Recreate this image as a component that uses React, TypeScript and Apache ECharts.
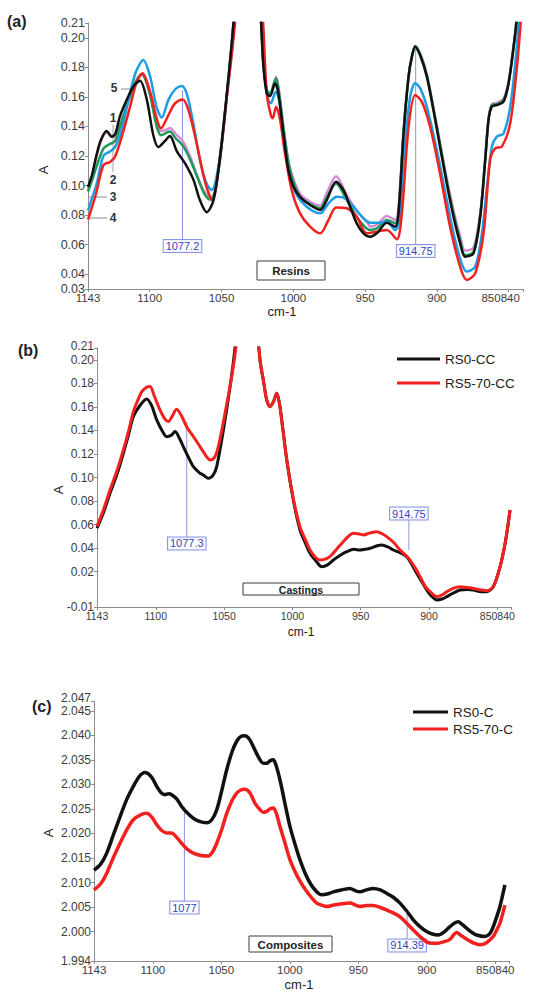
import React, { useEffect, useRef } from "react";
import * as echarts from "echarts";

const FONT = '"Liberation Sans", Arial, Helvetica, sans-serif';

// ---- Wavenumber axis (cm-1), shared by all three panels ----
const xTickValues = [1143, 1100, 1050, 1000, 950, 900, 850, 840];
const xLabelValues = [1143, 1100, 1050, 1000, 950, 900, 850];

// ---- Panel (a): resins, five spectra [wavenumber, absorbance] ----
const resinPink: [number, number][] = [
  [1143, 0.097], [1140, 0.107], [1137, 0.12], [1133.5, 0.131], [1130, 0.136], [1127, 0.134], [1124.2, 0.133],
  [1120, 0.143], [1115, 0.157], [1110, 0.169], [1105.5, 0.175], [1100, 0.163], [1095.2, 0.143], [1092, 0.137],
  [1088, 0.138], [1086, 0.139], [1082, 0.135], [1077, 0.13], [1072, 0.12], [1067, 0.107], [1062, 0.096],
  [1058, 0.0915], [1055, 0.095], [1051, 0.118], [1046.4, 0.16], [1041.7, 0.21], [1038, 0.27], [1031, 0.4],
  [1026, 0.27], [1022.4, 0.21], [1020.8, 0.182], [1018.5, 0.1646], [1016.2, 0.1624], [1012, 0.1735], [1010, 0.164],
  [1006.5, 0.137], [1002.3, 0.112], [995.3, 0.0945], [988.3, 0.089], [981.3, 0.0865], [976.7, 0.095], [970.2, 0.1063],
  [962.8, 0.0935], [955.8, 0.083], [948, 0.0745], [946.5, 0.0722], [941.8, 0.0735], [934.8, 0.0794], [929, 0.0767],
  [926.7, 0.085], [923.2, 0.137], [919.7, 0.174], [917.4, 0.187], [915.1, 0.193], [911.6, 0.189], [907, 0.175],
  [902.4, 0.153], [897.8, 0.129], [893.1, 0.105], [888.4, 0.083], [883.8, 0.066], [880.3, 0.056], [874.5, 0.058],
  [869.8, 0.081], [866.3, 0.118], [864, 0.145], [861.7, 0.155], [858.2, 0.156], [853.5, 0.159], [850, 0.171],
  [846.5, 0.195], [844.7, 0.21], [842, 0.25],
];
const resinGreen: [number, number][] = [
  [1143, 0.096], [1140, 0.104], [1137, 0.113], [1132.3, 0.125], [1128, 0.128], [1124.2, 0.13], [1120, 0.142],
  [1115, 0.157], [1110, 0.17], [1105.5, 0.1755], [1100, 0.162], [1095.2, 0.14], [1092, 0.134], [1088, 0.136],
  [1086, 0.1365], [1082, 0.132], [1077, 0.127], [1072, 0.118], [1067, 0.106], [1062, 0.0945], [1058, 0.0905],
  [1055, 0.094], [1051, 0.118], [1046.4, 0.16], [1041.7, 0.21], [1038, 0.27], [1031, 0.4], [1026, 0.27],
  [1022.4, 0.21], [1020.8, 0.182], [1018.5, 0.1646], [1016.2, 0.1624], [1012, 0.1726], [1010, 0.1635],
  [1006.5, 0.1364], [1002.3, 0.1105], [995.3, 0.0924], [988.3, 0.0875], [981.3, 0.0846], [976.7, 0.092],
  [970.2, 0.1014], [962.8, 0.0902], [953.4, 0.0756], [946.5, 0.0699], [941.8, 0.071], [934.8, 0.0767], [929, 0.0744],
  [926.7, 0.083], [923.2, 0.136], [919.7, 0.174], [917.4, 0.1875], [915.1, 0.1945], [911.6, 0.189], [907, 0.175],
  [902.4, 0.152], [897.8, 0.128], [893.1, 0.103], [888.4, 0.081], [883.8, 0.063], [880.3, 0.053], [874.5, 0.055],
  [869.8, 0.08], [866.3, 0.118], [864, 0.145], [861.7, 0.1545], [858.2, 0.155], [853.5, 0.158], [850, 0.17],
  [846.5, 0.195], [844.7, 0.21], [842, 0.25],
];
const resinBlue: [number, number][] = [
  [1143, 0.083], [1140, 0.092], [1137, 0.101], [1132.3, 0.12], [1127.7, 0.123], [1124.2, 0.126], [1119.5, 0.138],
  [1114.8, 0.158], [1110, 0.176], [1104.5, 0.185], [1099.8, 0.174], [1095.2, 0.153], [1091.6, 0.146], [1087, 0.158],
  [1082.4, 0.165], [1077.7, 0.1673], [1074.2, 0.162], [1069.6, 0.142], [1065, 0.117], [1060.3, 0.101], [1056.8, 0.097],
  [1052.2, 0.1127], [1047.5, 0.151], [1041.7, 0.203], [1038, 0.27], [1031, 0.4], [1026, 0.27], [1022, 0.21],
  [1019.7, 0.1737], [1017.4, 0.1579], [1015.7, 0.1557], [1012.2, 0.1635], [1009.9, 0.1579], [1006.5, 0.1308],
  [1002.3, 0.1059], [997.6, 0.0935], [990.7, 0.0857], [981.3, 0.0812], [975.5, 0.0879], [969.7, 0.0924],
  [963.9, 0.0913], [958.1, 0.0857], [951.1, 0.0778], [946.5, 0.0749], [939.5, 0.0749], [934.8, 0.0756], [929, 0.0699],
  [926, 0.0767], [923.2, 0.1173], [918.6, 0.1601], [915.1, 0.1692], [911.6, 0.1658], [907, 0.1534], [900, 0.124],
  [893.1, 0.0902], [886.1, 0.0587], [879.1, 0.0418], [873.3, 0.0451], [868.6, 0.0677], [865.1, 0.0992],
  [861.7, 0.1263], [858.2, 0.1331], [853.5, 0.1353], [848.9, 0.1534], [845.4, 0.1827], [843, 0.21], [841, 0.24],
];
const resinRed: [number, number][] = [
  [1143, 0.077], [1140, 0.086], [1137, 0.0958], [1132.3, 0.1138], [1127.7, 0.116], [1124.2, 0.1195], [1119.5, 0.133],
  [1113.7, 0.1533], [1109, 0.1703], [1105, 0.176], [1099.8, 0.1635], [1095.2, 0.1455], [1092.2, 0.1387],
  [1087, 0.1477], [1082.4, 0.1556], [1077, 0.1583], [1073, 0.151], [1067.3, 0.1285], [1061.5, 0.1026],
  [1056.4, 0.09], [1051, 0.1195], [1046.4, 0.159], [1040.6, 0.21], [1037, 0.27], [1031, 0.4], [1025, 0.27],
  [1021, 0.21], [1018.5, 0.1624], [1015.7, 0.1478], [1014.3, 0.1455], [1012, 0.1534], [1009.2, 0.1444],
  [1005.8, 0.1218], [1001.1, 0.0969], [995.3, 0.0812], [988.3, 0.0722], [981.3, 0.0677], [975.5, 0.0767],
  [970.2, 0.0852], [962.8, 0.0846], [955.8, 0.0789], [948.8, 0.0677], [941.8, 0.0688], [934.8, 0.0699],
  [927.9, 0.0636], [924.4, 0.0812], [919.7, 0.1398], [915.1, 0.1613], [910.5, 0.1568], [904.7, 0.1398],
  [897.8, 0.1082], [890.8, 0.0722], [883.8, 0.0451], [879.1, 0.0361], [873.3, 0.0406], [867.5, 0.0677],
  [862.9, 0.1173], [859.4, 0.1252], [854.7, 0.1263], [848.9, 0.1421], [844.2, 0.1805], [841.6, 0.21], [840, 0.23],
];
const resinBlack: [number, number][] = [
  [1143, 0.099], [1140, 0.108], [1137, 0.121], [1134, 0.131], [1130, 0.137], [1126.5, 0.133], [1124, 0.135],
  [1120.7, 0.147], [1116, 0.158], [1111.4, 0.167], [1106.8, 0.171], [1102, 0.158], [1097.5, 0.134], [1094, 0.126],
  [1089.5, 0.13], [1086, 0.1335], [1081, 0.123], [1075.4, 0.115], [1069.6, 0.104], [1065, 0.09], [1060.3, 0.082],
  [1055.6, 0.09], [1051, 0.1195], [1046.4, 0.1613], [1041.7, 0.21], [1038, 0.27], [1031, 0.4], [1026, 0.27],
  [1022.4, 0.21], [1020.8, 0.1805], [1018.5, 0.1624], [1016.2, 0.1606], [1012.7, 0.1692], [1010.4, 0.1624],
  [1006.9, 0.1353], [1003.4, 0.1105], [999.9, 0.0992], [995.3, 0.0924], [988.3, 0.0868], [981.3, 0.0835],
  [976.7, 0.0902], [970.2, 0.1025], [965.1, 0.097], [960.4, 0.0857], [955.8, 0.0744], [951.1, 0.0677],
  [946.5, 0.0654], [941.8, 0.0677], [934.8, 0.0749], [929, 0.0722], [926.7, 0.0812], [923.2, 0.1353],
  [919.7, 0.1737], [917.4, 0.1872], [915.1, 0.194], [911.6, 0.188], [907, 0.1737], [902.4, 0.1511], [897.8, 0.1263],
  [893.1, 0.1014], [888.4, 0.0789], [883.8, 0.0609], [880.3, 0.0519], [874.5, 0.0541], [869.8, 0.0789],
  [866.3, 0.1173], [864, 0.1444], [861.7, 0.1534], [858.2, 0.1545], [853.5, 0.1568], [850, 0.1692], [846.5, 0.194],
  [844.7, 0.2098], [842, 0.25],
];

// ---- Panel (b): castings ----
const castRS0: [number, number][] = [
  [1143, 0.057], [1138, 0.071], [1133.5, 0.0866], [1128, 0.104], [1123.7, 0.1206], [1120, 0.136], [1116.4, 0.1517],
  [1111, 0.162], [1106.6, 0.1667], [1103, 0.161], [1099.3, 0.1489], [1095, 0.139], [1092, 0.1347], [1088.5, 0.136],
  [1085.9, 0.139], [1082.5, 0.133], [1079.8, 0.1262], [1076, 0.117], [1072.5, 0.1092], [1068, 0.104], [1065.2, 0.1022],
  [1061.5, 0.0993], [1058, 0.102], [1055.4, 0.1092], [1050.5, 0.1404], [1045.6, 0.1772], [1042, 0.21], [1038, 0.26],
  [1032, 0.4], [1027, 0.25], [1023.7, 0.1999], [1021, 0.181], [1018.8, 0.1659], [1016.4, 0.1602], [1014, 0.164],
  [1011.4, 0.1716], [1009.5, 0.163], [1007.8, 0.1489], [1004.1, 0.1149], [999.3, 0.0809], [994.4, 0.0554],
  [990, 0.043], [987.1, 0.0356], [982, 0.028], [978.5, 0.0242], [974, 0.026], [970, 0.0299], [965, 0.034],
  [960.3, 0.037], [955, 0.039], [950.5, 0.0384], [947, 0.039], [943.1, 0.0399], [938, 0.042], [934.6, 0.0427],
  [930, 0.041], [926.2, 0.0384], [921, 0.036], [916.3, 0.0327], [913, 0.027], [909, 0.0186], [905, 0.011],
  [901.6, 0.0044], [898, -0.001], [894.3, -0.004], [890, -0.003], [887, -0.0012], [882, 0.002], [877.3, 0.0044],
  [872, 0.0048], [867.5, 0.0044], [862, 0.003], [857.7, 0.003], [852.9, 0.0073], [848, 0.0242], [844, 0.046],
  [840.7, 0.0724],
];
const castRS570: [number, number][] = [
  [1143, 0.0585], [1138, 0.0735], [1133.5, 0.0894], [1128, 0.107], [1123.7, 0.1234], [1120, 0.139], [1116.4, 0.156],
  [1113, 0.166], [1110.2, 0.1729], [1107, 0.1765], [1104.2, 0.1772], [1101, 0.169], [1096.9, 0.1574], [1093.5, 0.15],
  [1090.8, 0.1475], [1088, 0.152], [1084.7, 0.158], [1081, 0.152], [1077.4, 0.1432], [1072, 0.134], [1067.6, 0.1262],
  [1063, 0.118], [1060.3, 0.1149], [1057, 0.117], [1054.2, 0.1262], [1049.3, 0.1546], [1044.4, 0.1857],
  [1041.4, 0.21], [1037.5, 0.26], [1032, 0.4], [1027, 0.25], [1023.7, 0.2], [1021, 0.181], [1018.8, 0.1659],
  [1016.4, 0.1602], [1014, 0.164], [1011.4, 0.1716], [1009.5, 0.163], [1007.8, 0.1489], [1004.1, 0.1149],
  [999.3, 0.082], [994.4, 0.058], [990, 0.046], [987.1, 0.0384], [983, 0.032], [979.8, 0.0299], [975, 0.031],
  [971.3, 0.0342], [967, 0.04], [962.8, 0.0455], [958, 0.051], [955.4, 0.0526], [951, 0.052], [948.1, 0.0512],
  [943, 0.053], [938.3, 0.054], [934, 0.052], [931, 0.0498], [926, 0.045], [921.2, 0.0384], [917, 0.034],
  [913.9, 0.0299], [910, 0.023], [906.5, 0.0157], [903, 0.008], [899.2, 0.003], [894.3, -0.0012], [890, 0.0005],
  [887, 0.003], [882, 0.006], [877.3, 0.0073], [872, 0.0065], [867.5, 0.0058], [862, 0.0045], [857.7, 0.0038],
  [852.9, 0.0075], [848, 0.0242], [844, 0.046], [840.7, 0.0724],
];

// ---- Panel (c): composites ----
const compRS0: [number, number][] = [
  [1143, 2.0125], [1138, 2.0138], [1133.7, 2.016], [1129, 2.0196], [1124, 2.0234], [1119, 2.027], [1114.3, 2.0296],
  [1110, 2.0316], [1105.8, 2.0324], [1101, 2.0315], [1097.2, 2.0296], [1094, 2.0283], [1091.2, 2.0279],
  [1088.5, 2.0281], [1086.3, 2.0279], [1082.5, 2.027], [1079, 2.0255], [1075, 2.0242], [1070.5, 2.0231],
  [1065.5, 2.0224], [1060.7, 2.0222], [1057, 2.0228], [1053.4, 2.0248], [1049.5, 2.029], [1046.1, 2.033],
  [1042, 2.0368], [1038.8, 2.0388], [1035.5, 2.0398], [1032.8, 2.0399], [1029.5, 2.0392], [1026.7, 2.0377],
  [1023, 2.0356], [1019.4, 2.0343], [1016.9, 2.0343], [1014.5, 2.0348], [1012.1, 2.035], [1010, 2.0338],
  [1007.2, 2.0309], [1003.5, 2.026], [999.9, 2.0214], [996, 2.0176], [992.6, 2.0146], [989, 2.012], [985.3, 2.0099],
  [981, 2.0083], [976.8, 2.0075], [972, 2.0077], [968.3, 2.0081], [962, 2.0085], [956.1, 2.0088], [952, 2.0083],
  [948.8, 2.0081], [944, 2.0085], [939.1, 2.0088], [934, 2.0085], [929.4, 2.0078], [924.5, 2.007], [919.6, 2.0058],
  [915, 2.0043], [909.9, 2.0024], [905, 2.001], [900.2, 2.0], [896, 1.9995], [891.7, 1.9993], [887, 2.0],
  [883.1, 2.001], [880, 2.0017], [877.1, 2.002], [874, 2.0014], [871, 2.0007], [867, 1.9998], [863.7, 1.9993],
  [857.6, 1.999], [854, 1.9996], [851.5, 2.001], [849, 2.003], [846.6, 2.0051], [843, 2.0095],
];
const compRS570: [number, number][] = [
  [1143, 2.0085], [1138, 2.0098], [1133.7, 2.0119], [1129, 2.015], [1124, 2.018], [1119, 2.0208], [1114.3, 2.0228],
  [1109, 2.0238], [1104.5, 2.0241], [1100.5, 2.0232], [1097.2, 2.0218], [1093.5, 2.0206], [1089.9, 2.0201],
  [1087, 2.0201], [1085.1, 2.0199], [1082, 2.019], [1079, 2.018], [1075, 2.0168], [1070.5, 2.016], [1065, 2.0155],
  [1059.6, 2.0154], [1056.5, 2.0162], [1053.4, 2.018], [1049.5, 2.021], [1046.1, 2.0241], [1042, 2.0268],
  [1038.8, 2.0282], [1035.5, 2.0289], [1032.8, 2.029], [1029, 2.0282], [1025.5, 2.0262], [1022, 2.0249],
  [1019.4, 2.0243], [1016.9, 2.0245], [1014.5, 2.025], [1012.1, 2.0252], [1010, 2.0242], [1007.2, 2.0214],
  [1003.5, 2.018], [999.9, 2.0146], [995, 2.0115], [990.2, 2.0092], [985, 2.0072], [980.4, 2.0058], [976, 2.0053],
  [973.2, 2.0051], [968, 2.0054], [963.4, 2.0056], [956.1, 2.0058], [952, 2.0054], [948.8, 2.0051], [944, 2.0053],
  [939.1, 2.0053], [934, 2.0049], [929.4, 2.0044], [924.5, 2.0038], [919.6, 2.003], [915, 2.0018], [909.9, 2.0003],
  [905, 1.999], [900.2, 1.9979], [896, 1.9976], [892.9, 1.9976], [888, 1.9979], [883.1, 1.9984], [880.5, 1.9993],
  [878.3, 1.9998], [875, 1.9992], [871, 1.9985], [866, 1.9977], [861.2, 1.9973], [857, 1.9976], [851.5, 1.999],
  [849, 2.0003], [846.6, 2.0017], [843, 2.0054],
];

// ---- Absorbance tick labels per panel (last entry = axis maximum) ----
const yTicksA = [0.03, 0.04, 0.06, 0.08, 0.1, 0.12, 0.14, 0.16, 0.18, 0.2, 0.21];
const yTicksB = [-0.01, 0.02, 0.04, 0.06, 0.08, 0.1, 0.12, 0.14, 0.16, 0.18, 0.2, 0.21];
const yTicksC = [1.994, 2.0, 2.005, 2.01, 2.015, 2.02, 2.025, 2.03, 2.035, 2.04, 2.045, 2.047];

// ---- Peak markers: [panel, wavenumber, absorbance at line top, absorbance at box centre, label] ----
const peakMarks: [number, number, number, number, string][] = [
  [0, 1077.2, 0.1646, 0.0591, "1077.2"],
  [0, 914.75, 0.194, 0.0557, "914.75"],
  [1, 1077.3, 0.147, 0.044, "1077.3"],
  [1, 914.75, 0.0384, 0.0694, "914.75"],
  [2, 1077, 2.0254, 2.0049, "1077"],
  [2, 914.39, 2.0045, 1.99716, "914.39"],
];

const C = {
  black: "#111111",
  red: "#f2201e",
  blue: "#1d9ee2",
  green: "#1e9a58",
  pink: "#d98ad6",
  axis: "#8c8c8c",
  tick: "#3c3c3c",
  mark: "#8796e4",
  markText: "#2f45c0",
};

// lift: how far the top label sits above its tick, to keep it clear of the next one
const panels = [
  { ticks: yTicksA, digits: 2, fontSize: 12.5, lift: 0 },
  { ticks: yTicksB, digits: 2, fontSize: 12, lift: 2 },
  { ticks: yTicksC, digits: 3, fontSize: 12, lift: 3 },
];

function xAxisCfg(gridIndex: number, fontSize: number, shift: number) {
  return {
    type: "value",
    gridIndex,
    inverse: true,
    min: 840,
    max: 1143,
    axisLine: { show: true, onZero: false, lineStyle: { color: C.axis, width: 1 } },
    axisTick: { show: true, length: 3, customValues: xTickValues, lineStyle: { color: C.axis } },
    axisLabel: {
      customValues: xLabelValues,
      showMinLabel: true,
      showMaxLabel: true,
      fontSize,
      color: C.tick,
      fontFamily: FONT,
      margin: 3,
      formatter: (v: number) => (v === 850 ? "{s|850840}" : String(v)),
      rich: { s: { padding: [0, shift, 0, 0], fontSize, color: C.tick, fontFamily: FONT } },
    },
    splitLine: { show: false },
  };
}

// The top value is written separately (see below) so the tightly spaced
// uppermost pair of labels is never thinned out by the axis.
function yAxisCfg(gridIndex: number) {
  const { ticks, digits, fontSize } = panels[gridIndex];
  return {
    type: "value",
    gridIndex,
    min: ticks[0],
    max: ticks[ticks.length - 1],
    axisLine: { show: true, onZero: false, lineStyle: { color: C.axis, width: 1 } },
    axisTick: { show: true, length: 3, customValues: ticks, lineStyle: { color: C.axis } },
    axisLabel: {
      customValues: ticks.slice(0, -1),
      showMinLabel: true,
      showMaxLabel: true,
      fontSize,
      color: C.tick,
      fontFamily: FONT,
      margin: 3,
      formatter: (v: number) => v.toFixed(digits),
    },
    splitLine: { show: false },
  };
}

function lineSeries(name: string, idx: number, data: [number, number][], color: string, width: number) {
  return {
    name,
    type: "line",
    xAxisIndex: idx,
    yAxisIndex: idx,
    data,
    showSymbol: false,
    symbol: "none",
    smooth: 0.3,
    clip: true,
    color,
    lineStyle: { color, width },
    emphasis: { disabled: true },
  };
}

function staticGraphics() {
  const txt = (x: number, y: number, text: string, opts: any = {}) => ({
    type: "text",
    x,
    y,
    silent: true,
    style: {
      text,
      fill: opts.fill || "#222",
      font: `${opts.weight || "normal"} ${opts.size || 13}px ${FONT}`,
      align: opts.align || "center",
      verticalAlign: opts.va || "middle",
    },
    rotation: opts.rotation || 0,
  });
  const seg = (x1: number, y1: number, x2: number, y2: number, color = "#8a8a8a") => ({
    type: "line",
    silent: true,
    shape: { x1, y1, x2, y2 },
    style: { stroke: color, lineWidth: 1 },
  });
  const namedBox = (x: number, y: number, w: number, h: number, label: string, size: number) => [
    { type: "rect", silent: true, shape: { x, y, width: w, height: h }, style: { fill: "#fff", stroke: "#3a3a3a", lineWidth: 1 } },
    txt(x + w / 2, y + h / 2 + 0.5, label, { weight: "bold", size }),
  ];
  return [
    // panel tags
    txt(7, 21, "(a)", { weight: "bold", size: 16, align: "left" }),
    txt(18, 350, "(b)", { weight: "bold", size: 16, align: "left" }),
    txt(32, 706, "(c)", { weight: "bold", size: 16, align: "left" }),
    // axis titles
    txt(43, 170, "A", { size: 13, rotation: Math.PI / 2 }),
    txt(58, 490, "A", { size: 13, rotation: Math.PI / 2 }),
    txt(48, 833, "A", { size: 13, rotation: Math.PI / 2 }),
    txt(282, 311, "cm-1", { size: 13 }),
    txt(301, 632, "cm-1", { size: 12 }),
    txt(299, 984, "cm-1", { size: 13 }),
    // sample boxes
    ...namedBox(257, 261, 68, 19, "Resins", 11.5),
    ...namedBox(243, 583, 116, 12, "Castings", 10.5),
    ...namedBox(249, 936, 83, 16, "Composites", 11.5),
    // spectrum numbering in panel (a)
    txt(114, 88, "5", { weight: "bold", size: 12, fill: "#333" }),
    seg(121, 89, 133, 89),
    txt(113, 118, "1", { weight: "bold", size: 12, fill: "#333" }),
    seg(113, 125, 113, 172, "#a0a0a0"),
    txt(113, 180, "2", { weight: "bold", size: 12, fill: "#333" }),
    txt(113, 197, "3", { weight: "bold", size: 12, fill: "#333" }),
    seg(89, 197, 107, 197),
    txt(113, 218, "4", { weight: "bold", size: 12, fill: "#333" }),
    seg(89, 218, 107, 218),
  ];
}

export default function App() {
  const ref = useRef<HTMLDivElement>(null);

  useEffect(() => {
    if (!ref.current) return;
    const chart = echarts.init(ref.current, null, { renderer: "svg" });

    chart.setOption({
      animation: false,
      backgroundColor: "#ffffff",
      textStyle: { fontFamily: FONT },
      grid: [
        { left: 88, top: 23, width: 435, height: 266 },
        { left: 97, top: 348, width: 414, height: 259 },
        { left: 94, top: 701, width: 415, height: 260 },
      ],
      xAxis: [xAxisCfg(0, 11.5, 16), xAxisCfg(1, 10.5, 0), xAxisCfg(2, 11.5, 0)],
      yAxis: [yAxisCfg(0), yAxisCfg(1), yAxisCfg(2)],
      legend: [
        {
          data: ["RS0-CC", "RS5-70-CC"],
          orient: "vertical",
          left: 392,
          top: 347,
          icon: "rect",
          itemWidth: 43,
          itemHeight: 3,
          itemGap: 10,
          selectedMode: false,
          textStyle: { fontSize: 13.5, color: "#222", fontFamily: FONT },
        },
        {
          data: ["RS0-C", "RS5-70-C"],
          orient: "vertical",
          left: 408,
          top: 700,
          icon: "rect",
          itemWidth: 35,
          itemHeight: 3,
          itemGap: 3,
          selectedMode: false,
          textStyle: { fontSize: 13.5, color: "#222", fontFamily: FONT },
        },
      ],
      series: [
        lineSeries("1", 0, resinPink, C.pink, 2.5),
        lineSeries("2", 0, resinGreen, C.green, 2.5),
        lineSeries("5", 0, resinBlue, C.blue, 2.5),
        lineSeries("4", 0, resinRed, C.red, 2.5),
        lineSeries("3", 0, resinBlack, C.black, 2.5),
        lineSeries("RS0-CC", 1, castRS0, C.black, 3),
        lineSeries("RS5-70-CC", 1, castRS570, C.red, 3),
        lineSeries("RS0-C", 2, compRS0, C.black, 3.5),
        lineSeries("RS5-70-C", 2, compRS570, C.red, 3.5),
      ],
    });

    const dyn: any[] = [];

    // uppermost absorbance label of each panel, placed at the axis maximum
    panels.forEach(({ ticks, digits, fontSize, lift }, g) => {
      const top = ticks[ticks.length - 1];
      const p = chart.convertToPixel({ gridIndex: g } as any, [1143, top]) as number[];
      dyn.push({
        type: "text",
        silent: true,
        x: p[0] - 3,
        y: p[1] - lift,
        style: {
          text: top.toFixed(digits),
          font: `${fontSize}px ${FONT}`,
          fill: C.tick,
          align: "right",
          verticalAlign: "middle",
        },
      });
    });

    // peak markers: a thin drop line from the band to a boxed wavenumber label
    peakMarks.forEach(([g, wn, yLine, yBox, label]) => {
      const p1 = chart.convertToPixel({ gridIndex: g } as any, [wn, yLine]) as number[];
      const p2 = chart.convertToPixel({ gridIndex: g } as any, [wn, yBox]) as number[];
      const below = yBox < yLine;
      dyn.push({
        type: "line",
        silent: true,
        shape: { x1: p1[0], y1: p1[1], x2: p1[0], y2: p2[1] + (below ? -6 : 6) },
        style: { stroke: C.mark, lineWidth: 1 },
      });
      dyn.push({
        type: "text",
        silent: true,
        x: p1[0],
        y: p2[1],
        style: {
          text: label,
          font: `11px ${FONT}`,
          fill: C.markText,
          align: "center",
          verticalAlign: "middle",
          backgroundColor: "rgba(255,255,255,0.85)",
          borderColor: C.mark,
          borderWidth: 1,
          padding: [1, 2, 0, 2],
        },
      });
    });

    chart.setOption({ graphic: [...staticGraphics(), ...dyn] });

    return () => chart.dispose();
  }, []);

  return (
    <div
      ref={ref}
      style={{ position: "absolute", left: 0, top: 0, width: 536, height: 994, background: "#ffffff" }}
    />
  );
}
